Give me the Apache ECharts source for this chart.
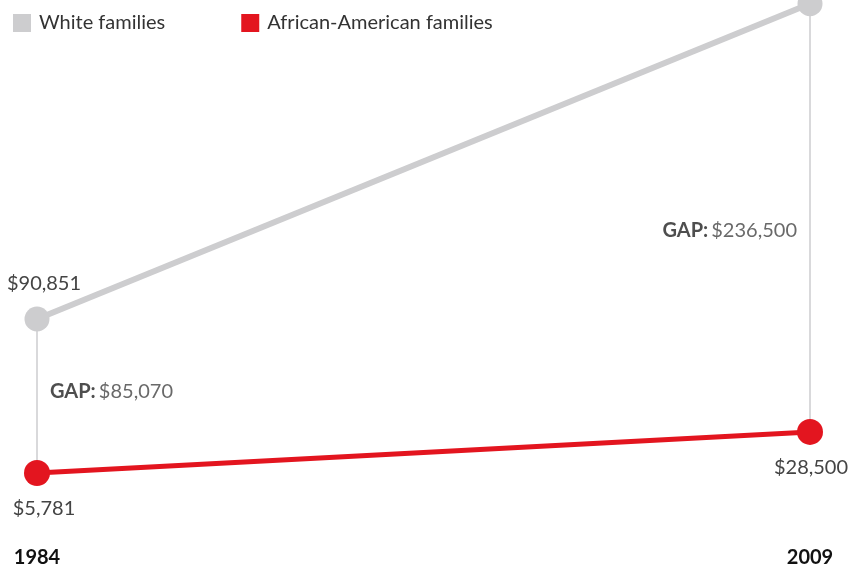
<!DOCTYPE html>
<html>
<head>
<meta charset="utf-8">
<style>
  html, body { margin: 0; padding: 0; background: #fff; }
  #chart { width: 859px; height: 573px; }
</style>
<script src="https://cdn.jsdelivr.net/npm/echarts@6/dist/echarts.min.js"></script>
</head>
<body>
<div id="chart"></div>
<script>
// Median family wealth by race, 1984 vs 2009
const years = ['1984', '2009'];
const whiteWealth = [90851, 265000];
const blackWealth = [5781, 28500];
const seriesNames = ['White families', 'African-American families'];

const GRAY = '#cdcdcf';
const RED = '#e3151f';
const FONT = 'Lato, "Noto Sans", sans-serif';
const FS = 20;

const fmt = v => '$' + v.toLocaleString('en-US');

// value labels: white shown only at the first year, red shown under each point
const whiteData = whiteWealth.map((v, i) => ({
  value: v,
  label: { show: i === 0, position: 'top', distance: 13, offset: [7, 0] }
}));
const blackData = blackWealth.map((v, i) => ({
  value: v,
  label: { show: true, position: 'bottom', distance: 13, offset: [i === 0 ? 7 : 1, 0] }
}));

// vertical connector between the two values of each year
const gapLines = years.map((y, i) => [
  { coord: [y, blackWealth[i]] },
  { coord: [y, whiteWealth[i]] }
]);

// gap annotation anchored at the middle of each connector
const gapData = years.map((y, i) => ({
  value: [y, (whiteWealth[i] + blackWealth[i]) / 2],
  gap: whiteWealth[i] - blackWealth[i],
  label: i === 0
    ? { position: 'right', distance: 13, offset: [0, -4] }
    : { position: 'left', distance: 13, offset: [0, 13] }
}));

const chart = echarts.init(document.getElementById('chart'));
chart.setOption({
  animation: false,
  textStyle: { fontFamily: FONT },
  legend: {
    left: 8,
    top: 8,
    itemWidth: 18,
    itemHeight: 18,
    itemGap: 76,
    icon: 'rect',
    textStyle: { fontSize: FS, color: '#333', fontFamily: FONT, padding: [0, 0, 0, 3] },
    data: seriesNames
  },
  grid: { left: 37, right: 49, top: 3.7, bottom: 89.5 },
  xAxis: {
    type: 'category',
    data: years,
    boundaryGap: false,
    axisLine: { show: false },
    axisTick: { show: false },
    axisLabel: {
      margin: 64,
      fontSize: FS,
      fontWeight: 'bold',
      color: '#111',
      fontFamily: FONT
    }
  },
  yAxis: {
    type: 'value',
    min: 0,
    max: 265000,
    show: false
  },
  series: [
    {
      name: seriesNames[0],
      type: 'line',
      data: whiteData,
      symbol: 'circle',
      symbolSize: 25,
      z: 2,
      itemStyle: { color: GRAY },
      lineStyle: { color: GRAY, width: 6 },
      label: { fontSize: FS, color: '#444', fontFamily: FONT, formatter: p => fmt(p.value) },
      markLine: {
        silent: true,
        symbol: 'none',
        lineStyle: { color: '#d9d9db', width: 2, type: 'solid' },
        label: { show: false },
        data: gapLines,
        z: 1
      }
    },
    {
      name: seriesNames[1],
      type: 'line',
      data: blackData,
      symbol: 'circle',
      symbolSize: 26,
      z: 3,
      itemStyle: { color: RED },
      lineStyle: { color: RED, width: 5 },
      label: { fontSize: FS, color: '#444', fontFamily: FONT, formatter: p => fmt(p.value) }
    },
    {
      name: 'gap',
      type: 'scatter',
      data: gapData,
      symbolSize: 0,
      silent: true,
      z: 4,
      label: {
        show: true,
        fontFamily: FONT,
        formatter: p => '{b|GAP:} {v|' + fmt(p.data.gap) + '}',
        rich: {
          b: { fontSize: FS, fontWeight: 'bold', color: '#222', fontFamily: FONT },
          v: { fontSize: FS, color: '#444', fontFamily: FONT }
        }
      }
    }
  ]
});
</script>
</body>
</html>
